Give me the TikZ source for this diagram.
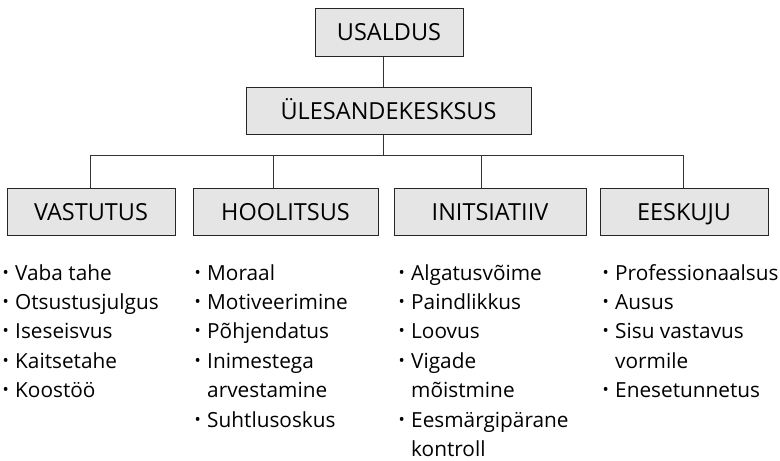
\documentclass[tikz,border=0pt]{standalone}
\usepackage{fontspec}
\setmainfont{Open Sans}
\usetikzlibrary{positioning}

\newcommand{\blt}{\makebox[7pt]{\raisebox{2pt}{\scalebox{0.8}{\textbullet}}}}
\newenvironment{punktid}{\begin{tabular}[t]{@{}l@{\hspace{6pt}}l@{}}}{\end{tabular}}

\tikzset{
  kast/.style={draw=black!85, fill=black!10, line width=1pt, inner sep=0pt,
    minimum height=47pt, text height=17pt, text depth=0pt,
    font=\fontsize{23.5}{27}\selectfont},
  loend/.style={anchor=base west, inner sep=0pt,
    font=\fontsize{20.8}{29.4}\selectfont},
  seos/.style={draw=black!80, line width=1pt},
}

\begin{document}
\begin{tikzpicture}[x=1pt, y=-1pt]
  \useasboundingbox (0,0) rectangle (780,461);

  % yhine tyvi
  \node[kast, minimum width=148pt, minimum height=48pt] (usaldus) at (389,32) {USALDUS};
  \node[kast, minimum width=285pt] (ylesanne) at (388.5,110.5) {ÜLESANDEKESKSUS};
  \coordinate (tyvi) at (383,155);

  % neli haru
  \node[kast, minimum width=168pt] (vastutus)    at (91,211.5)    {VASTUTUS};
  \node[kast, minimum width=185pt] (hoolitsus)   at (285.5,211.5) {HOOLITSUS};
  \node[kast, minimum width=192pt] (initsiatiiv) at (490,211.5)   {INITSIATIIV};
  \node[kast, minimum width=168pt] (eeskuju)     at (684,211.5)   {EESKUJU};

  \draw[seos] (tyvi |- usaldus.south) -- (tyvi |- ylesanne.north);
  \draw[seos] (tyvi |- ylesanne.south) -- (tyvi);
  \foreach \n/\dx in {vastutus/-1, hoolitsus/-12.5, initsiatiiv/-9, eeskuju/-1}
    \draw[seos] ([xshift=\dx pt]\n.north) |- (tyvi);

  % loendid
  \node[loend] (l-vastutus) at (2,280) {\begin{punktid}
    \blt & Vaba tahe \\
    \blt & Otsustusjulgus \\
    \blt & Iseseisvus \\
    \blt & Kaitsetahe \\
    \blt & Koostöö
  \end{punktid}};
  \node[loend] (l-hoolitsus) at (194,280) {\begin{punktid}
    \blt & Moraal \\
    \blt & Motiveerimine \\
    \blt & Põhjendatus \\
    \blt & Inimestega \\
         & arvestamine \\
    \blt & Suhtlusoskus
  \end{punktid}};
  \node[loend] (l-initsiatiiv) at (398,280) {\begin{punktid}
    \blt & Algatusvõime \\
    \blt & Paindlikkus \\
    \blt & Loovus \\
    \blt & Vigade \\
         & mõistmine \\
    \blt & Eesmärgipärane \\
         & kontroll
  \end{punktid}};
  \node[loend] (l-eeskuju) at (602,280) {\begin{punktid}
    \blt & Professionaalsus \\
    \blt & Ausus \\
    \blt & Sisu vastavus \\
         & vormile \\
    \blt & Enesetunnetus
  \end{punktid}};
\end{tikzpicture}
\end{document}
